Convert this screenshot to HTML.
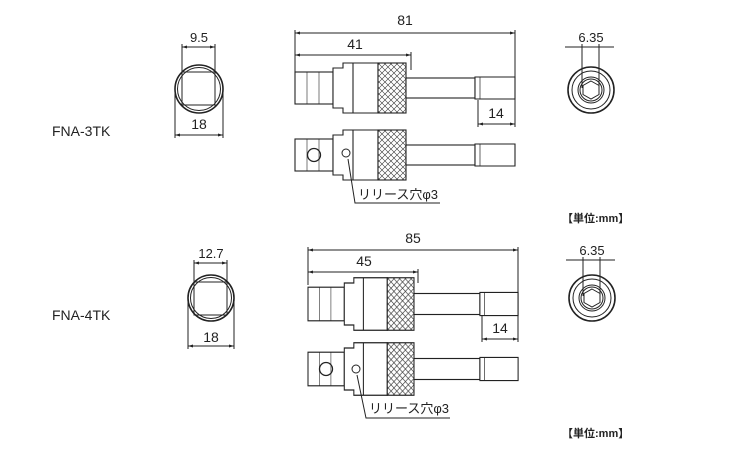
<!DOCTYPE html>
<html><head><meta charset="utf-8"><style>
html,body{margin:0;padding:0;background:#fff;}
svg{display:block;}
text{font-family:"Liberation Sans","Noto Sans CJK JP",sans-serif;fill:#222;}
</style></head><body>
<svg width="750" height="450" viewBox="0 0 750 450" xmlns="http://www.w3.org/2000/svg">
<defs>
<pattern id="kn" width="6" height="6" patternUnits="userSpaceOnUse">
<rect width="6" height="6" fill="#fff"/>
<path d="M0 0L6 6M6 0L0 6" stroke="#333" stroke-width="0.6"/>
</pattern>
<marker id="a" markerWidth="6" markerHeight="6" refX="5" refY="3" orient="auto-start-reverse"><path d="M0 1.5L5 3L0 4.5z" fill="#222"/></marker>
<g id="tool1" stroke="#222" stroke-width="1.1" fill="#fff">
<rect x="0" y="-16" width="38" height="32"/>
<line x1="12" y1="-16" x2="12" y2="16" stroke-width="0.6"/>
<line x1="24" y1="-16" x2="24" y2="16" stroke-width="0.6"/>
<path d="M38 -20 H48 V-25 H83 V25 H48 V20 H38Z"/>
<line x1="58" y1="-25" x2="58" y2="25"/>
<rect x="83" y="-25" width="28" height="50" fill="url(#kn)"/>
<rect x="111" y="-10" width="69" height="20"/>
<path d="M180 -11 H220 V11 H180Z"/>
<line x1="185" y1="-11" x2="185" y2="11" stroke-width="0.7"/>
</g>
</defs>

<!-- ===== TOP SET ===== -->
<text x="52" y="136" font-size="14">FNA-3TK</text>
<g stroke="#222" stroke-width="1" fill="none">
<circle cx="199" cy="89" r="24" stroke-width="1.6"/>
<circle cx="199" cy="89" r="21.5"/>
<rect x="182" y="72" width="33" height="33"/>
<line x1="182" y1="44" x2="182" y2="72"/><line x1="215" y1="44" x2="215" y2="72"/>
<line x1="182" y1="47" x2="215" y2="47" marker-start="url(#a)" marker-end="url(#a)"/>
<line x1="175" y1="89" x2="175" y2="138"/><line x1="223" y1="89" x2="223" y2="138"/>
<line x1="175" y1="135" x2="223" y2="135" marker-start="url(#a)" marker-end="url(#a)"/>
</g>
<text x="199" y="42" font-size="13" text-anchor="middle">9.5</text>
<text x="199" y="129" font-size="14" text-anchor="middle">18</text>

<use href="#tool1" x="295" y="88"/>
<use href="#tool1" x="295" y="155"/>
<g stroke="#222" stroke-width="1" fill="none">
<line x1="295" y1="30" x2="295" y2="72"/><line x1="515" y1="30" x2="515" y2="127"/>
<line x1="295" y1="33" x2="515" y2="33" marker-start="url(#a)" marker-end="url(#a)"/>
<line x1="411" y1="52" x2="411" y2="70"/>
<line x1="295" y1="55" x2="411" y2="55" marker-start="url(#a)" marker-end="url(#a)"/>
<line x1="478" y1="100" x2="478" y2="127"/>
<line x1="478" y1="124" x2="515" y2="124" marker-start="url(#a)" marker-end="url(#a)"/>
<circle cx="314" cy="155" r="6.5" stroke-width="1.3"/>
<circle cx="346" cy="153" r="4"/>
<polyline points="348,159 355,203 440,203"/>
</g>
<text x="405" y="25" font-size="14" text-anchor="middle">81</text>
<text x="355" y="49" font-size="14" text-anchor="middle">41</text>
<text x="496" y="118" font-size="14" text-anchor="middle">14</text>
<text x="358" y="199" font-size="13">リリース穴φ3</text>

<g stroke="#222" stroke-width="1" fill="none">
<circle cx="591" cy="90" r="23" stroke-width="1.6"/>
<circle cx="591" cy="90" r="19"/>
<circle cx="591" cy="90" r="13"/>
<circle cx="591" cy="90" r="11"/>
<polygon points="591,81 599,85.5 599,94.5 591,99 583,94.5 583,85.5"/>
<line x1="582" y1="44" x2="582" y2="88"/><line x1="599" y1="44" x2="599" y2="88"/>
<line x1="565" y1="47" x2="614" y2="47"/>
</g>
<text x="591" y="42" font-size="13" text-anchor="middle">6.35</text>
<text x="562" y="222" font-size="11" font-weight="bold">【単位:mm】</text>

<!-- ===== BOTTOM SET ===== -->
<text x="52" y="320" font-size="14">FNA-4TK</text>
<g stroke="#222" stroke-width="1" fill="none">
<circle cx="211" cy="298" r="23" stroke-width="1.6"/>
<circle cx="211" cy="298" r="20.5"/>
<rect x="194" y="282" width="33" height="33"/>
<line x1="194" y1="260" x2="194" y2="282"/><line x1="227" y1="260" x2="227" y2="282"/>
<line x1="194" y1="263" x2="227" y2="263" marker-start="url(#a)" marker-end="url(#a)"/>
<line x1="188" y1="298" x2="188" y2="349"/><line x1="234" y1="298" x2="234" y2="349"/>
<line x1="188" y1="346" x2="234" y2="346" marker-start="url(#a)" marker-end="url(#a)"/>
</g>
<text x="211" y="258" font-size="13" text-anchor="middle">12.7</text>
<text x="211" y="342" font-size="14" text-anchor="middle">18</text>

<g transform="translate(308,304) scale(0.955,1.05)"><use href="#tool1"/></g>
<g transform="translate(308,369) scale(0.955,1.05)"><use href="#tool1"/></g>
<g stroke="#222" stroke-width="1" fill="none">
<line x1="308" y1="247" x2="308" y2="285"/><line x1="518" y1="247" x2="518" y2="342"/>
<line x1="308" y1="250" x2="518" y2="250" marker-start="url(#a)" marker-end="url(#a)"/>
<line x1="418" y1="269" x2="418" y2="283"/>
<line x1="308" y1="272" x2="418" y2="272" marker-start="url(#a)" marker-end="url(#a)"/>
<line x1="482" y1="316" x2="482" y2="342"/>
<line x1="482" y1="339" x2="518" y2="339" marker-start="url(#a)" marker-end="url(#a)"/>
<circle cx="326" cy="369" r="6.5" stroke-width="1.3"/>
<circle cx="356" cy="369" r="4"/>
<polyline points="357,375 366,418 450,418"/>
</g>
<text x="413" y="243" font-size="14" text-anchor="middle">85</text>
<text x="364" y="266" font-size="14" text-anchor="middle">45</text>
<text x="500" y="333" font-size="14" text-anchor="middle">14</text>
<text x="369" y="413" font-size="13">リリース穴φ3</text>

<g stroke="#222" stroke-width="1" fill="none">
<circle cx="592" cy="298" r="23" stroke-width="1.6"/>
<circle cx="592" cy="298" r="19"/>
<circle cx="592" cy="298" r="13"/>
<circle cx="592" cy="298" r="11"/>
<polygon points="592,289 600,293.5 600,302.5 592,307 584,302.5 584,293.5"/>
<line x1="583" y1="257" x2="583" y2="296"/><line x1="600" y1="257" x2="600" y2="296"/>
<line x1="566" y1="260" x2="615" y2="260"/>
</g>
<text x="592" y="255" font-size="13" text-anchor="middle">6.35</text>
<text x="562" y="437" font-size="11" font-weight="bold">【単位:mm】</text>
</svg>
</body></html>
